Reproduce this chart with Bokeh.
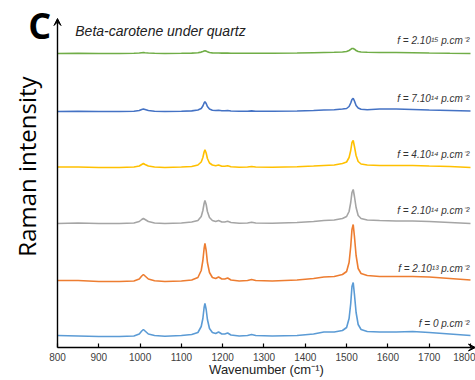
import math
from bokeh.plotting import figure
from bokeh.models import ColumnDataSource, FixedTicker, Label, Arrow, VeeHead
from bokeh.embed import file_html
from bokeh.resources import INLINE
from bokeh.core.properties import value

# ---- data ----
wavenumber = [800, 850, 900, 950, 985, 998, 1004, 1008, 1012, 1020, 1035, 1060, 1100, 1125, 1140,
              1148, 1152, 1155, 1157, 1160, 1163, 1168, 1175, 1183, 1190, 1198, 1205, 1212, 1220, 1240,
              1260, 1270, 1280, 1320, 1380, 1420, 1445, 1470, 1490, 1500, 1506, 1510, 1513, 1516, 1519,
              1523, 1528, 1535, 1550, 1580, 1620, 1660, 1700, 1750, 1800]

int_f0 = [1, 0.5, 0, 0, 0.5, 2.5, 5.5, 7, 5.5, 2.5, 1, 0.3, 1, 2, 4,
          10, 18, 29, 33, 27, 17, 8, 4, 3, 4.5, 2.5, 2.5, 3.5, 1.5, 0.5,
          1, 2, 1, 0.5, 1, 2.5, 4.5, 4.5, 6, 9, 18, 33, 50, 54, 42,
          24, 12, 7, 5, 4.5, 4.5, 5, 4, 2.5, 1]
int_2e13 = [1, 1, 0, 0, 0.5, 2.5, 5.5, 7, 5.5, 2.5, 0.8, 0, 0.5, 1.5, 4,
            11, 21, 33, 38, 31, 19, 9, 4, 3, 4.5, 2.5, 2.5, 3.5, 1.5, 0.5,
            1, 2, 1, 0.5, 1.5, 3, 4.5, 5, 7, 10, 19, 35, 52, 57, 45,
            26, 13, 8, 6, 5, 5, 5, 4.5, 3, 1.5]
int_2e14 = [0, 0.5, 0, 0, 0.5, 2, 4, 5, 4, 2, 0.5, 0, 0.5, 1.5, 3,
            7, 13, 20, 23, 19, 12, 6, 3, 2, 3, 1.5, 1.5, 2.2, 1, 0.3,
            0.5, 1.2, 0.5, 0.3, 1, 2, 3, 3.5, 5, 7, 12, 21, 31, 34, 27,
            16, 8, 5, 3.5, 3, 2.5, 2.5, 2, 1, 0]
int_4e14 = [0.5, 0.5, 0, 0, 0.5, 1.5, 3, 4, 3, 1.5, 0.5, 0, 0.5, 1, 2.5,
            5.5, 10, 15.5, 17.7, 14.5, 9, 4.5, 2.5, 1.8, 2.5, 1.2, 1.2, 1.8, 0.8, 0.3,
            0.5, 1, 0.5, 0.3, 0.8, 1.5, 2, 2.5, 4, 5.5, 10, 17, 25, 27, 21,
            12, 6, 3.5, 2.5, 2, 2, 2, 1.5, 1, 0]
int_7e14 = [0, 0.3, 0, 0, 0.3, 1, 2, 2.5, 2, 1, 0.3, 0, 0.3, 0.6, 1.5,
            3, 5.5, 8.5, 9.7, 8, 5, 2.5, 1.3, 1, 1.2, 0.8, 0.8, 1, 0.5, 0.2,
            0.3, 0.6, 0.3, 0.2, 0.5, 1, 1.5, 1.8, 2.5, 3, 5, 8.5, 12, 13.3, 10.5,
            6, 3.5, 2.2, 1.7, 2.5, 2.5, 2, 1.5, 1, 0.5]
int_2e15 = [0, 0.3, 0, 0, 0.2, 0.5, 0.8, 1, 0.8, 0.5, 0.2, 0, 0.2, 0.4, 0.8,
            1.4, 2, 2.5, 2.7, 2.4, 1.8, 1, 0.6, 0.5, 0.5, 0.4, 0.4, 0.4, 0.3, 0.2,
            0.2, 0.3, 0.2, 0.2, 0.5, 0.8, 1, 1.2, 1.5, 2, 3, 4.2, 5, 5, 4.3,
            3, 2, 1.5, 1.2, 1, 1, 0.8, 0.5, 0.2, 0]

series = [int_f0, int_2e13, int_2e14, int_4e14, int_7e14, int_2e15]
offsets = [11, 66, 124, 180, 236, 294]
labels = ["f = 0 p.cm\u207b\u00b2", "f = 2.10\u00b9\u00b3 p.cm\u207b\u00b2", "f = 2.10\u00b9\u2074 p.cm\u207b\u00b2",
          "f = 4.10\u00b9\u2074 p.cm\u207b\u00b2", "f = 7.10\u00b9\u2074 p.cm\u207b\u00b2", "f = 2.10\u00b9\u2075 p.cm\u207b\u00b2"]
colors = ["#5B9BD5", "#ED7D31", "#A5A5A5", "#FFC000", "#4472C4", "#70AD47"]
x_ticks = [800, 900, 1000, 1100, 1200, 1300, 1400, 1500, 1600, 1700, 1800]

X0, X1 = 800, 1812   # axis extent (arrow tip at right)
Y0, Y1 = 0, 329      # axis extent (arrow tip at top)

p = figure(width=475, height=380, output_backend="svg", toolbar_location=None,
           x_range=(662, 1812.1), y_range=(-33, 347),
           min_border_left=0, min_border_right=0, min_border_top=0, min_border_bottom=0)
p.background_fill_color = "white"
p.border_fill_color = "white"
p.outline_line_color = None
p.xgrid.visible = False
p.ygrid.visible = False

for ys, off, col in zip(series, offsets, colors):
    p.line(wavenumber, [v + off for v in ys], line_color=col, line_width=1.6)

lab_src = ColumnDataSource(dict(x=[1797] * len(labels), y=[o + 13 for o in offsets], t=labels))
p.text(x="x", y="y", text="t", source=lab_src, text_align="right", text_baseline="middle",
       text_font=value("Liberation Sans"), text_font_style="italic", text_font_size="10px",
       text_color="#333333")

xa = p.xaxis[0]
xa.fixed_location = 0
xa.ticker = FixedTicker(ticks=x_ticks)
xa.major_tick_in = 4
xa.major_tick_out = 0
xa.minor_tick_in = 0
xa.minor_tick_out = 0
xa.axis_line_color = None
xa.major_tick_line_color = "black"
xa.major_tick_line_width = 1.2
xa.major_label_standoff = 5
xa.major_label_text_font = "Liberation Sans"
xa.major_label_text_font_size = "10px"
xa.major_label_text_color = "#404040"

p.yaxis.visible = False

p.add_layout(Arrow(end=VeeHead(size=7, fill_color="black", line_color="black"),
                   x_start=X0, y_start=Y0, x_end=X0, y_end=Y1, line_width=1.4, line_color="black"))
p.add_layout(Arrow(end=VeeHead(size=7, fill_color="black", line_color="black"),
                   x_start=X0, y_start=Y0, x_end=X1, y_end=Y0, line_width=1.4, line_color="black"))

p.add_layout(Label(x=757, y=322, text="C", text_font="Open Sans", text_font_style="bold",
                   text_font_size="36px", text_align="center", text_baseline="middle",
                   text_color="black"))
p.add_layout(Label(x=843, y=317, text="Beta-carotene under quartz", text_font="Liberation Sans",
                   text_font_style="italic", text_font_size="14px", text_align="left",
                   text_baseline="middle", text_color="#222222"))
p.add_layout(Label(x=724, y=181, text="Raman intensity", text_font="Open Sans",
                   text_font_size="24px", angle=math.pi / 2, text_align="center",
                   text_baseline="middle", text_color="black"))
p.add_layout(Label(x=1306, y=-22, text="Wavenumber (cm\u207b\u00b9)", text_font="Liberation Sans",
                   text_font_size="13px", text_align="center", text_baseline="middle",
                   text_color="#222222"))

open("out.html", "w").write(file_html(p, INLINE))
